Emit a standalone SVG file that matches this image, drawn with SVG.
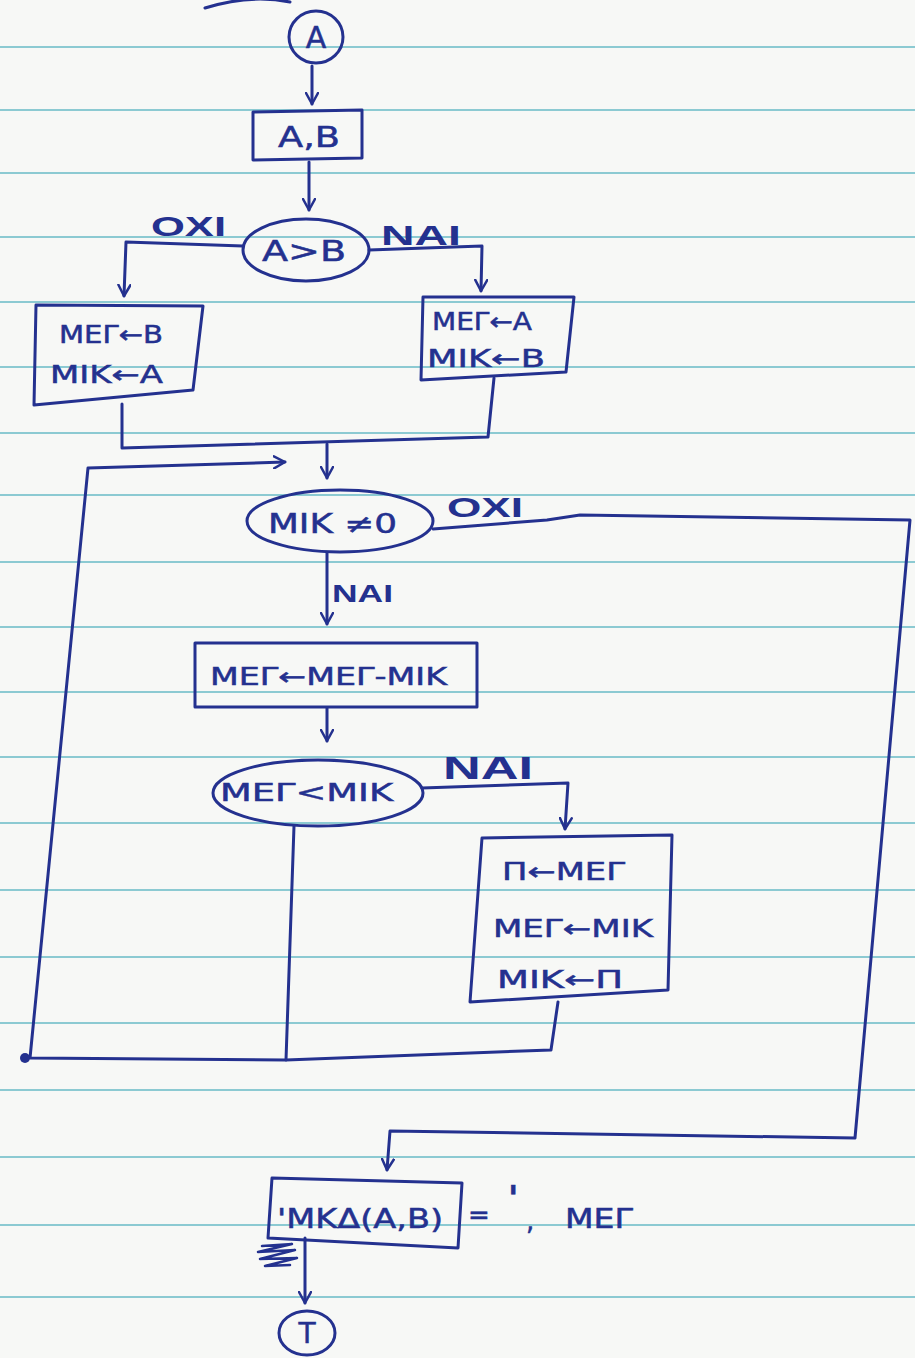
<svg xmlns="http://www.w3.org/2000/svg" width="915" height="1358" viewBox="0 0 915 1358">
<defs>
<style>
.ink{fill:none;stroke:#24318f;stroke-width:3;stroke-linecap:round;stroke-linejoin:round}
.txt{font-family:"DejaVu Sans","Liberation Sans",sans-serif;fill:#24318f;stroke:#24318f;stroke-width:0.5;font-size:24px}
.lbl{font-family:"Liberation Sans","DejaVu Sans",sans-serif;fill:#24318f;font-size:28px;font-weight:bold}
.rule{stroke:#8ccad2;stroke-width:2}
</style>
<marker id="arr" viewBox="0 0 14 14" refX="12" refY="7" markerWidth="14" markerHeight="14" markerUnits="userSpaceOnUse" orient="auto">
<path d="M1,1 L12,7 L1,13" fill="none" stroke="#24318f" stroke-width="2.5" stroke-linecap="round" stroke-linejoin="round"/>
</marker>
</defs>
<rect x="0" y="0" width="915" height="1358" fill="#f7f8f6"/>
<g id="paper-rules">
<line class="rule" x1="0" y1="47" x2="915" y2="47"/>
<line class="rule" x1="0" y1="110" x2="915" y2="110"/>
<line class="rule" x1="0" y1="173" x2="915" y2="173"/>
<line class="rule" x1="0" y1="237" x2="915" y2="237"/>
<line class="rule" x1="0" y1="302" x2="915" y2="302"/>
<line class="rule" x1="0" y1="367" x2="915" y2="367"/>
<line class="rule" x1="0" y1="433" x2="915" y2="433"/>
<line class="rule" x1="0" y1="495" x2="915" y2="495"/>
<line class="rule" x1="0" y1="562" x2="915" y2="562"/>
<line class="rule" x1="0" y1="627" x2="915" y2="627"/>
<line class="rule" x1="0" y1="692" x2="915" y2="692"/>
<line class="rule" x1="0" y1="757" x2="915" y2="757"/>
<line class="rule" x1="0" y1="823" x2="915" y2="823"/>
<line class="rule" x1="0" y1="890" x2="915" y2="890"/>
<line class="rule" x1="0" y1="957" x2="915" y2="957"/>
<line class="rule" x1="0" y1="1023" x2="915" y2="1023"/>
<line class="rule" x1="0" y1="1090" x2="915" y2="1090"/>
<line class="rule" x1="0" y1="1157" x2="915" y2="1157"/>
<line class="rule" x1="0" y1="1225" x2="915" y2="1225"/>
<line class="rule" x1="0" y1="1297" x2="915" y2="1297"/>
</g>
<path class="ink" d="M205,8 Q250,-6 290,2"/>
<g id="connectors">
<path class="ink" d="M312,66 L312,104" marker-end="url(#arr)"/>
<path class="ink" d="M309,162 L309,210" marker-end="url(#arr)"/>
<path class="ink" d="M243,246 L126,242 L124,296" marker-end="url(#arr)"/>
<path class="ink" d="M369,250 L482,246 L481,291" marker-end="url(#arr)"/>
<path class="ink" d="M122,404 L122,448 L488,437 L494,378"/>
<path class="ink" d="M327,444 L327,478" marker-end="url(#arr)"/>
<path class="ink" d="M558,1002 L551,1050 L286,1060 L30,1058 L88,468 L285,462" marker-end="url(#arr)"/>
<path class="ink" d="M294,826 L286,1060"/>
<circle cx="25" cy="1058" r="5" fill="#24318f"/>
<path class="ink" d="M433,529 L547,520 L580,515 L910,520 L855,1138 L390,1131 L387,1170" marker-end="url(#arr)"/>
<path class="ink" d="M327,553 L327,624" marker-end="url(#arr)"/>
<path class="ink" d="M327,708 L327,741" marker-end="url(#arr)"/>
<path class="ink" d="M422,788 L568,783 L565,829" marker-end="url(#arr)"/>
<path class="ink" d="M305,1238 L305,1303" marker-end="url(#arr)"/>
<path class="ink" d="M262,1246 L292,1244 L258,1252 L295,1250 L260,1259 L297,1258 L265,1266 L290,1265" style="stroke-width:2.5"/>
<text class="lbl" x="151" y="236" textLength="75" lengthAdjust="spacingAndGlyphs">ΟΧΙ</text>
<text class="lbl" x="381" y="245" textLength="80" lengthAdjust="spacingAndGlyphs">ΝΑΙ</text>
<text class="lbl" x="447" y="517" textLength="76" lengthAdjust="spacingAndGlyphs">ΟΧΙ</text>
<text class="lbl" x="332" y="602" textLength="61" lengthAdjust="spacingAndGlyphs" style="font-size:24px">ΝΑΙ</text>
<text class="lbl" x="443" y="779" textLength="90" lengthAdjust="spacingAndGlyphs" style="font-size:32px">ΝΑΙ</text>
</g>
<g id="start">
<ellipse class="ink" cx="316" cy="37" rx="27" ry="26"/>
<text class="txt" x="316" y="48" text-anchor="middle" style="font-size:30px">Α</text>
</g>
<g id="input-ab">
<polygon class="ink" points="253,112 362,110 362,158 253,160"/>
<text class="txt" x="278" y="147" textLength="62" lengthAdjust="spacingAndGlyphs" style="font-size:28px">Α,Β</text>
</g>
<g id="cond-a-gt-b">
<ellipse class="ink" cx="306" cy="250" rx="63" ry="31"/>
<text class="txt" x="262" y="261" textLength="84" lengthAdjust="spacingAndGlyphs" style="font-size:28px">Α&gt;Β</text>
</g>
<g id="assign-no">
<polygon class="ink" points="36,305 203,306 193,390 34,405"/>
<text class="txt" x="59" y="343" textLength="104" lengthAdjust="spacingAndGlyphs">ΜΕΓ←Β</text>
<text class="txt" x="50" y="383" textLength="113" lengthAdjust="spacingAndGlyphs">ΜΙΚ←Α</text>
</g>
<g id="assign-yes">
<polygon class="ink" points="423,297 574,297 566,372 421,380"/>
<text class="txt" x="432" y="330" textLength="100" lengthAdjust="spacingAndGlyphs">ΜΕΓ←Α</text>
<text class="txt" x="427" y="367" textLength="118" lengthAdjust="spacingAndGlyphs">ΜΙΚ←Β</text>
</g>
<g id="cond-mik-ne-0">
<ellipse class="ink" cx="340" cy="521" rx="93" ry="31"/>
<text class="txt" x="268" y="533" textLength="129" lengthAdjust="spacingAndGlyphs" style="font-size:26px">ΜΙΚ ≠0</text>
</g>
<g id="subtract">
<rect class="ink" x="195" y="643" width="282" height="64"/>
<text class="txt" x="210" y="685" textLength="237" lengthAdjust="spacingAndGlyphs">ΜΕΓ←ΜΕΓ-ΜΙΚ</text>
</g>
<g id="cond-meg-lt-mik">
<ellipse class="ink" cx="318" cy="793" rx="105" ry="33"/>
<text class="txt" x="220" y="801" textLength="173" lengthAdjust="spacingAndGlyphs">ΜΕΓ&lt;ΜΙΚ</text>
</g>
<g id="swap">
<polygon class="ink" points="482,838 672,835 668,990 470,1002"/>
<text class="txt" x="502" y="880" textLength="123" lengthAdjust="spacingAndGlyphs">Π←ΜΕΓ</text>
<text class="txt" x="493" y="937" textLength="160" lengthAdjust="spacingAndGlyphs">ΜΕΓ←ΜΙΚ</text>
<text class="txt" x="497" y="988" textLength="126" lengthAdjust="spacingAndGlyphs">ΜΙΚ←Π</text>
</g>
<g id="output">
<polygon class="ink" points="272,1178 462,1183 458,1248 268,1238"/>
<text class="txt" x="277" y="1228" textLength="166" lengthAdjust="spacingAndGlyphs" style="font-size:26px">'ΜΚΔ(Α,Β)</text>
<text class="txt" style="font-size:26px"><tspan x="468" y="1224">=</tspan><tspan x="508" y="1210" style="font-size:34px;font-weight:bold">'</tspan><tspan x="526" y="1230">,</tspan><tspan x="565" y="1228" textLength="68" lengthAdjust="spacingAndGlyphs">ΜΕΓ</tspan></text>
</g>
<g id="end">
<ellipse class="ink" cx="307" cy="1333" rx="28" ry="22"/>
<text class="txt" x="307" y="1343" text-anchor="middle" style="font-size:28px">Τ</text>
</g>
</svg>
